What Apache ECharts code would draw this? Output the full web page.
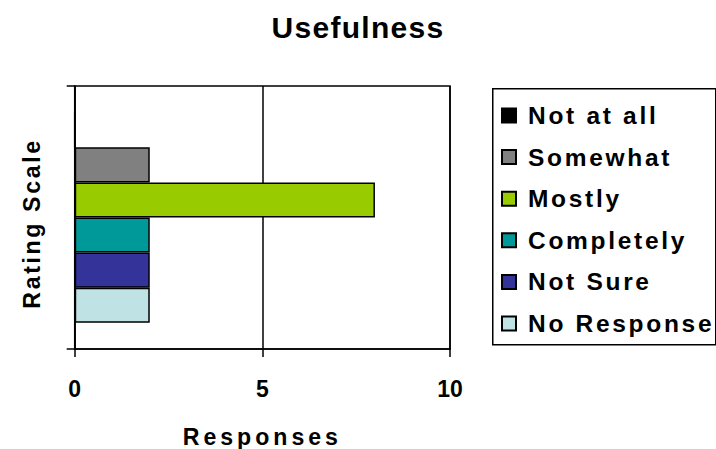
<!DOCTYPE html>
<html><head><meta charset="utf-8">
<script src="https://cdn.jsdelivr.net/npm/echarts@6/dist/echarts.min.js"></script>
<style>
html,body{margin:0;padding:0;background:#fff;}
#chart{width:716px;height:449px;}
#chart text[style*="30px"]{letter-spacing:1.3px;}
#chart text[style*="24.5px"]{letter-spacing:2.7px;}
#chart text[style*="23.1px"]{letter-spacing:4px;}
#chart text[style*="23.2px"]{letter-spacing:2.6px;}
</style></head>
<body><div id="chart"></div>
<script>
const title = 'Usefulness';
const categories = [''];
const seriesNames = ['Not at all','Somewhat','Mostly','Completely','Not Sure','No Response'];
const seriesValues = [[0],[2],[8],[2],[2],[2]];
const seriesColors = ['#000000','#808080','#99CC00','#009999','#333399','#BFE2E5'];
const xTicks = [0,5,10];
const xName = 'Responses';
const yName = 'Rating Scale';

const FONT = '"Liberation Sans", Arial, sans-serif';
const chart = echarts.init(document.getElementById('chart'), null, {renderer:'svg'});
const option = {
  animation:false,
  backgroundColor:'#fff',
  title:{text:title,left:'center',top:12,padding:0,textStyle:{fontFamily:FONT,fontWeight:'bold',fontSize:30,color:'#000'}},
  grid:{left:74.7,right:266,top:86,bottom:100,outerBoundsMode:'none',containLabel:false,show:true,borderColor:'#000',borderWidth:1.5,backgroundColor:'transparent'},
  xAxis:{type:'value',min:xTicks[0],max:xTicks[xTicks.length-1],interval:5,
    name:xName,nameLocation:'middle',nameGap:76,
    nameTextStyle:{fontFamily:FONT,fontWeight:'bold',fontSize:23.1,color:'#000'},
    axisLine:{show:true,lineStyle:{color:'#000',width:1.5}},
    axisTick:{show:true,length:8,lineStyle:{color:'#000',width:1.5}},
    axisLabel:{margin:28,fontFamily:FONT,fontWeight:'bold',fontSize:23,color:'#000'},
    splitLine:{show:true,lineStyle:{color:'#000',width:1.5}}},
  yAxis:{type:'category',data:categories,inverse:true,
    name:yName,nameLocation:'middle',nameGap:31,nameRotate:90,
    nameTextStyle:{fontFamily:FONT,fontWeight:'bold',fontSize:23.2,color:'#000',padding:[0,12,0,0]},
    axisLine:{show:true,lineStyle:{color:'#000',width:1.5}},
    axisTick:{show:true,length:8,lineStyle:{color:'#000',width:1.5}},
    axisLabel:{show:false},splitLine:{show:false}},
  legend:{orient:'vertical',left:501,top:103,padding:0,itemWidth:14,itemHeight:14,itemGap:16.6,
    icon:'rect',data:seriesNames,
    textStyle:{fontFamily:FONT,fontWeight:'bold',fontSize:24.5,color:'#000',padding:[0,0,0,7]}},
  graphic:[{type:'rect',left:492,top:88,shape:{width:223,height:256},silent:true,z:-1,
    style:{fill:'#fff',stroke:'#000',lineWidth:1.5}}],
  series: seriesNames.map((n,i)=>({
    name:n,type:'bar',data:seriesValues[i],barGap:'0%',barCategoryGap:'20%',
    itemStyle:{color:seriesColors[i],borderColor:'#000',borderWidth:1.5}
  }))
};
chart.setOption(option);
</script></body></html>
